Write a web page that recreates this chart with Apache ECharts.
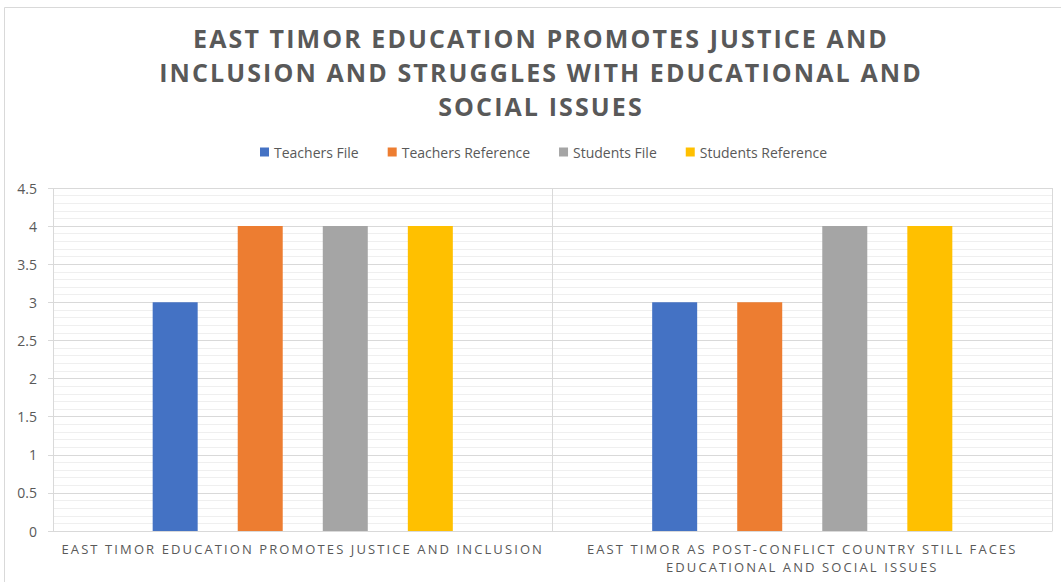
<!DOCTYPE html>
<html><head><meta charset="utf-8">
<script src="https://cdn.jsdelivr.net/npm/echarts@6/dist/echarts.min.js"></script>
<style>
html,body{margin:0;padding:0;background:#fff}
#c{width:1061px;height:582px}
#c svg text[style*="25px"], #c svg text[font-size="25"], #c svg text[font-size="25px"]{letter-spacing:2.1px}
#c svg text[style*="13px"], #c svg text[font-size="13"], #c svg text[font-size="13px"]{letter-spacing:2.1px}
</style>
</head><body><div id="c"></div>
<script>
const categories = ["EAST TIMOR EDUCATION PROMOTES JUSTICE AND INCLUSION", "EAST TIMOR AS POST-CONFLICT COUNTRY STILL FACES\nEDUCATIONAL AND SOCIAL ISSUES"];
const seriesNames = ["Teachers File", "Teachers Reference", "Students File", "Students Reference"];
const teachersFile = [3, 3];
const teachersReference = [4, 3];
const studentsFile = [4, 4];
const studentsReference = [4, 4];
const colors = ["#4472C4", "#ED7D31", "#A5A5A5", "#FFC000"];
const titleText = "EAST TIMOR EDUCATION PROMOTES JUSTICE AND\nINCLUSION AND STRUGGLES WITH EDUCATIONAL AND\nSOCIAL ISSUES";

const chart = echarts.init(document.getElementById('c'), null, {renderer: 'svg'});
const values = [teachersFile, teachersReference, studentsFile, studentsReference];
chart.setOption({
  animation: false,
  color: colors,
  title: {
    text: titleText, left: 536, textAlign: 'center', top: 16,
    textStyle: {fontFamily: 'Open Sans', fontWeight: 'bold', fontSize: 25, color: '#595959', lineHeight: 34}
  },
  legend: {
    top: 140, left: 255, itemWidth: 9, itemHeight: 9, itemGap: 29, icon: 'rect',
    textStyle: {fontFamily: 'Open Sans', fontSize: 14, color: '#595959'},
    data: seriesNames
  },
  graphic: [
    {type: 'line', shape: {x1: 4.5, y1: 7.5, x2: 1061, y2: 7.5}, style: {stroke: '#d9d9d9', lineWidth: 1}, silent: true},
    {type: 'line', shape: {x1: 4.5, y1: 7.5, x2: 4.5, y2: 582}, style: {stroke: '#d9d9d9', lineWidth: 1}, silent: true}
  ],
  grid: {left: 53, right: 9, top: 188, bottom: 51},
  xAxis: {
    type: 'category', data: categories,
    axisLine: {lineStyle: {color: '#d9d9d9'}},
    axisTick: {show: false},
    splitLine: {show: true, lineStyle: {color: '#d9d9d9'}},
    axisLabel: {fontFamily: 'Open Sans', fontSize: 13, color: '#595959', margin: 9, lineHeight: 18, interval: 0}
  },
  yAxis: {
    type: 'value', min: 0, max: 4.5, interval: 0.5,
    axisLine: {show: false},
    axisTick: {show: true, length: 5, lineStyle: {color: '#d9d9d9'}},
    axisLabel: {fontFamily: 'Open Sans', fontSize: 14, color: '#595959', margin: 16},
    splitLine: {lineStyle: {color: '#d9d9d9'}},
    minorTick: {show: false, splitNumber: 5},
    minorSplitLine: {show: true, lineStyle: {color: '#efefef'}}
  },
  series: seriesNames.map((n, i) => ({
    name: n, type: 'bar', data: values[i], barWidth: 45, barGap: '89%'
  }))
});
</script></body></html>
